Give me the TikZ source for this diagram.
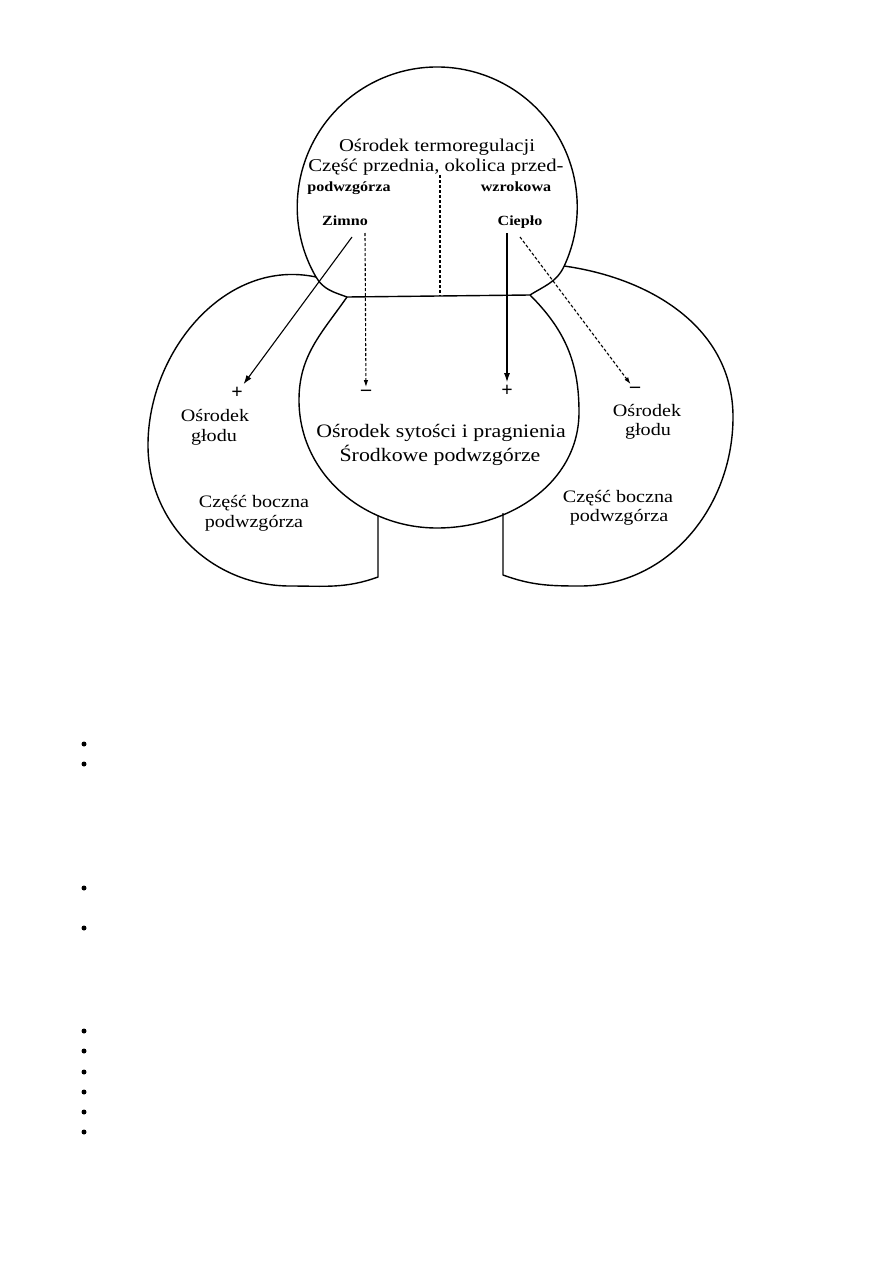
\documentclass[tikz,border=0pt]{standalone}
\usepackage{fontspec}
\setmainfont{Liberation Serif}
\usetikzlibrary{arrows.meta}

\begin{document}
\begin{tikzpicture}[x=1pt, y=1pt,
  outline/.style={line width=1.4pt, line join=round},
  lbl/.style={anchor=base, inner sep=0pt, xscale=1.15},
  big/.style={lbl, font=\fontsize{18}{20}\selectfont},
  mid/.style={lbl, font=\fontsize{19}{22}\selectfont},
  side/.style={lbl, font=\fontsize{17.5}{20}\selectfont},
  small/.style={lbl, font=\fontsize{14}{16}\selectfont\bfseries},
  sign/.style={inner sep=3pt, font=\fontsize{20}{20}\selectfont\bfseries},
  arr/.style={line width=1.1pt, -{Latex[length=9pt, width=6pt]}},
  darr/.style={line width=1.1pt, dash pattern=on 3pt off 2pt, -{Latex[length=7pt, width=4.5pt]}}]
\fill[white] (0,0) rectangle (893,-1263);
% points where the outlines meet
\coordinate (lineL) at (347,-297);
\coordinate (lineR) at (530,-295);
\coordinate (crossL) at (316,-277);
\coordinate (crossR) at (564,-266);
% top circle
\draw[outline] (lineL) to[out=160,in=-60] (crossL)
  arc[start angle=210, end angle=-25, radius=140pt] to[out=-115,in=32] (lineR);
% middle circle
\draw[outline] (lineL) -- (lineR);
\draw[outline] (lineL) to[out=235,in=90] (299,-400) to[out=-90,in=180] (437,-528)
  to[out=0,in=-90] (579,-412) to[out=90,in=-45] (lineR);
% lateral parts
\draw[outline] (crossL) to[out=168,in=90] (148,-445) to[out=-90,in=180] (290,-586)
  to[out=0,in=200] (378,-577) -- (378,-515);
\draw[outline] (crossR) to[out=-8,in=90] (733,-417) to[out=-90,in=0] (580,-586)
  to[out=180,in=-20] (503,-575) -- (503,-513);
% labels
\node[big] (termo) at (437,-151) {Ośrodek termoregulacji};
\node[big] (przed) at (436,-171) {Część przednia, okolica przed-};
\node[small] (podL) at (349,-191) {podwzgórza};
\node[small] (wzrok) at (516,-191) {wzrokowa};
\node[small] (zimno) at (345,-225) {Zimno};
\node[small] (cieplo) at (520,-225) {Ciepło};
\node[mid] (syt) at (441,-437) {Ośrodek sytości i pragnienia};
\node[mid] (srod) at (440,-461) {Środkowe podwzgórze};
\node[side] (glodL) at (215,-421) {Ośrodek};
\node[side] (glodL2) at (214,-441) {głodu};
\node[side] (boczL) at (254,-507) {Część boczna};
\node[side] (boczL2) at (254,-527) {podwzgórza};
\node[side] (glodR) at (647,-416) {Ośrodek};
\node[side] (glodR2) at (648,-435) {głodu};
\node[side] (boczR) at (618,-502) {Część boczna};
\node[side] (boczR2) at (619,-521) {podwzgórza};
% signs
\node[sign] (plusL) at (237,-393) {+};
\node[sign] (minusC) at (366,-393) {–};
\node[sign] (plusC) at (507,-391) {+};
\node[sign] (minusR) at (635,-390) {–};
% connectors
\coordinate (zimnoS) at (352,-237);
\coordinate (zimnoD) at (365,-233);
\coordinate (ciepS) at (507,-233);
\coordinate (ciepD) at (520,-237);
\coordinate (midTop) at (440,-175);
\coordinate (midBot) at (440,-296);
\draw[arr] (zimnoS) -- (plusL);
\draw[darr] (zimnoD) -- (minusC);
\draw[arr] (ciepS) -- (plusC);
\draw[darr] (ciepD) -- (minusR);
\draw[line width=1.1pt, dash pattern=on 3pt off 2pt] (midTop) -- (midBot);
% bullets
\foreach \y in {744,764,888,928,1031,1051,1072,1092,1112,1132}
  \fill (84,-\y) circle (2.5pt);
\end{tikzpicture}
\end{document}
